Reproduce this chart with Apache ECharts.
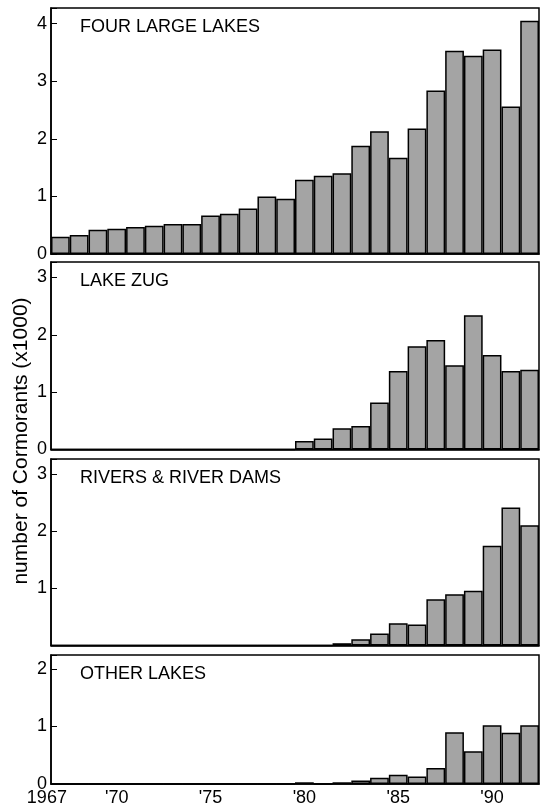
<!DOCTYPE html>
<html>
<head>
<meta charset="utf-8">
<script src="https://cdn.jsdelivr.net/npm/echarts@6/dist/echarts.min.js"></script>
<style>
html,body{margin:0;padding:0;background:#fff;}
#c{width:547px;height:809px;}
</style>
</head>
<body>
<div id="c"></div>
<script>
const years = [1967,1968,1969,1970,1971,1972,1973,1974,1975,1976,1977,1978,1979,1980,1981,1982,1983,1984,1985,1986,1987,1988,1989,1990,1991,1992];
const fourLargeLakes = [0.30,0.33,0.42,0.44,0.47,0.49,0.52,0.52,0.67,0.70,0.79,1.00,0.96,1.29,1.36,1.40,1.88,2.13,1.67,2.18,2.84,3.53,3.44,3.55,2.56,4.05];
const lakeZug = [0,0,0,0,0,0,0,0,0,0,0,0,0,0.15,0.19,0.37,0.41,0.82,1.37,1.80,1.91,1.47,2.34,1.65,1.37,1.39];
const riversDams = [0,0,0,0,0,0,0,0,0,0,0,0,0,0,0,0.04,0.11,0.21,0.39,0.37,0.81,0.90,0.96,1.75,2.42,2.11];
const otherLakes = [0,0,0,0,0,0,0,0,0,0,0,0,0,0.03,0,0.03,0.06,0.11,0.16,0.13,0.28,0.90,0.57,1.02,0.89,1.02];
const panelTitles = ['FOUR LARGE LAKES','LAKE ZUG','RIVERS & RIVER DAMS','OTHER LAKES'];
const panelMax = [4.27,3.27,3.27,2.24];
const labelYears = [1967,1970,1975,1980,1985,1990];
const labelTexts = ['1967',"'70","'75","'80","'85","'90"];
const yAxisTitle = 'number of Cormorants (x1000)';

const seriesData = [fourLargeLakes, lakeZug, riversDams, otherLakes];
const grids = [
  {top:8, height:246},
  {top:262, height:187.5},
  {top:459, height:186.5},
  {top:655, height:129}
];
const FONT = '"Liberation Sans", Arial, sans-serif';
const chart = echarts.init(document.getElementById('c'), null, {renderer:'canvas'});

const option = {
  animation:false,
  backgroundColor:'#fff',
  title: panelTitles.map((t,i)=>({
    text:t, left:75, top:grids[i].top+5,
    textStyle:{fontFamily:FONT, fontSize:18, fontWeight:'normal', color:'#000'}
  })),
  grid: grids.map(g=>({left:51, right:8, top:g.top, height:g.height, show:true, borderColor:'#000', borderWidth:1.5, backgroundColor:'transparent'})),
  xAxis: grids.map((g,i)=>({
    type:'category', gridIndex:i, data:years.map(String),
    axisLine:{show:true, lineStyle:{color:'#000', width:1.5}},
    axisTick:{show:false},
    axisLabel:{
      show: i===3, interval:0, margin:5,
      fontFamily:FONT, fontSize:18, color:'#000',
      formatter:(v)=>{
        const k = labelYears.indexOf(Number(v));
        if (k<0) return '';
        return k===0 ? '{s|'+labelTexts[k]+'}' : labelTexts[k];
      },
      rich:{s:{fontFamily:FONT, fontSize:18, color:'#000', padding:[0,27,0,0]}}
    }
  })),
  yAxis: grids.map((g,i)=>({
    type:'value', gridIndex:i, min:0, max:panelMax[i], interval:1,
    splitLine:{show:false},
    axisLine:{show:true, lineStyle:{color:'#000', width:1.5}},
    axisTick:{show:true, inside:true, length:6, lineStyle:{color:'#000', width:1}},
    axisLabel:{
      margin:4, fontFamily:FONT, fontSize:18, color:'#000',
      formatter:(v)=>{
        if (Math.abs(v-Math.round(v))>1e-6) return '';
        if (i===2 && v===0) return '';
        return String(Math.round(v));
      }
    }
  })),
  series: seriesData.map((d,i)=>({
    type:'bar', xAxisIndex:i, yAxisIndex:i, data:d,
    barCategoryGap:'0%',
    itemStyle:{color:'#a4a4a4', borderColor:'#000', borderWidth:1.5}
  })),
  graphic:[{
    type:'text', x:21, y:441, rotation:Math.PI/2,
    style:{text:yAxisTitle, fontFamily:FONT, fontSize:21, fill:'#000', align:'center', verticalAlign:'middle'}
  }]
};
chart.setOption(option);
</script>
</body>
</html>
